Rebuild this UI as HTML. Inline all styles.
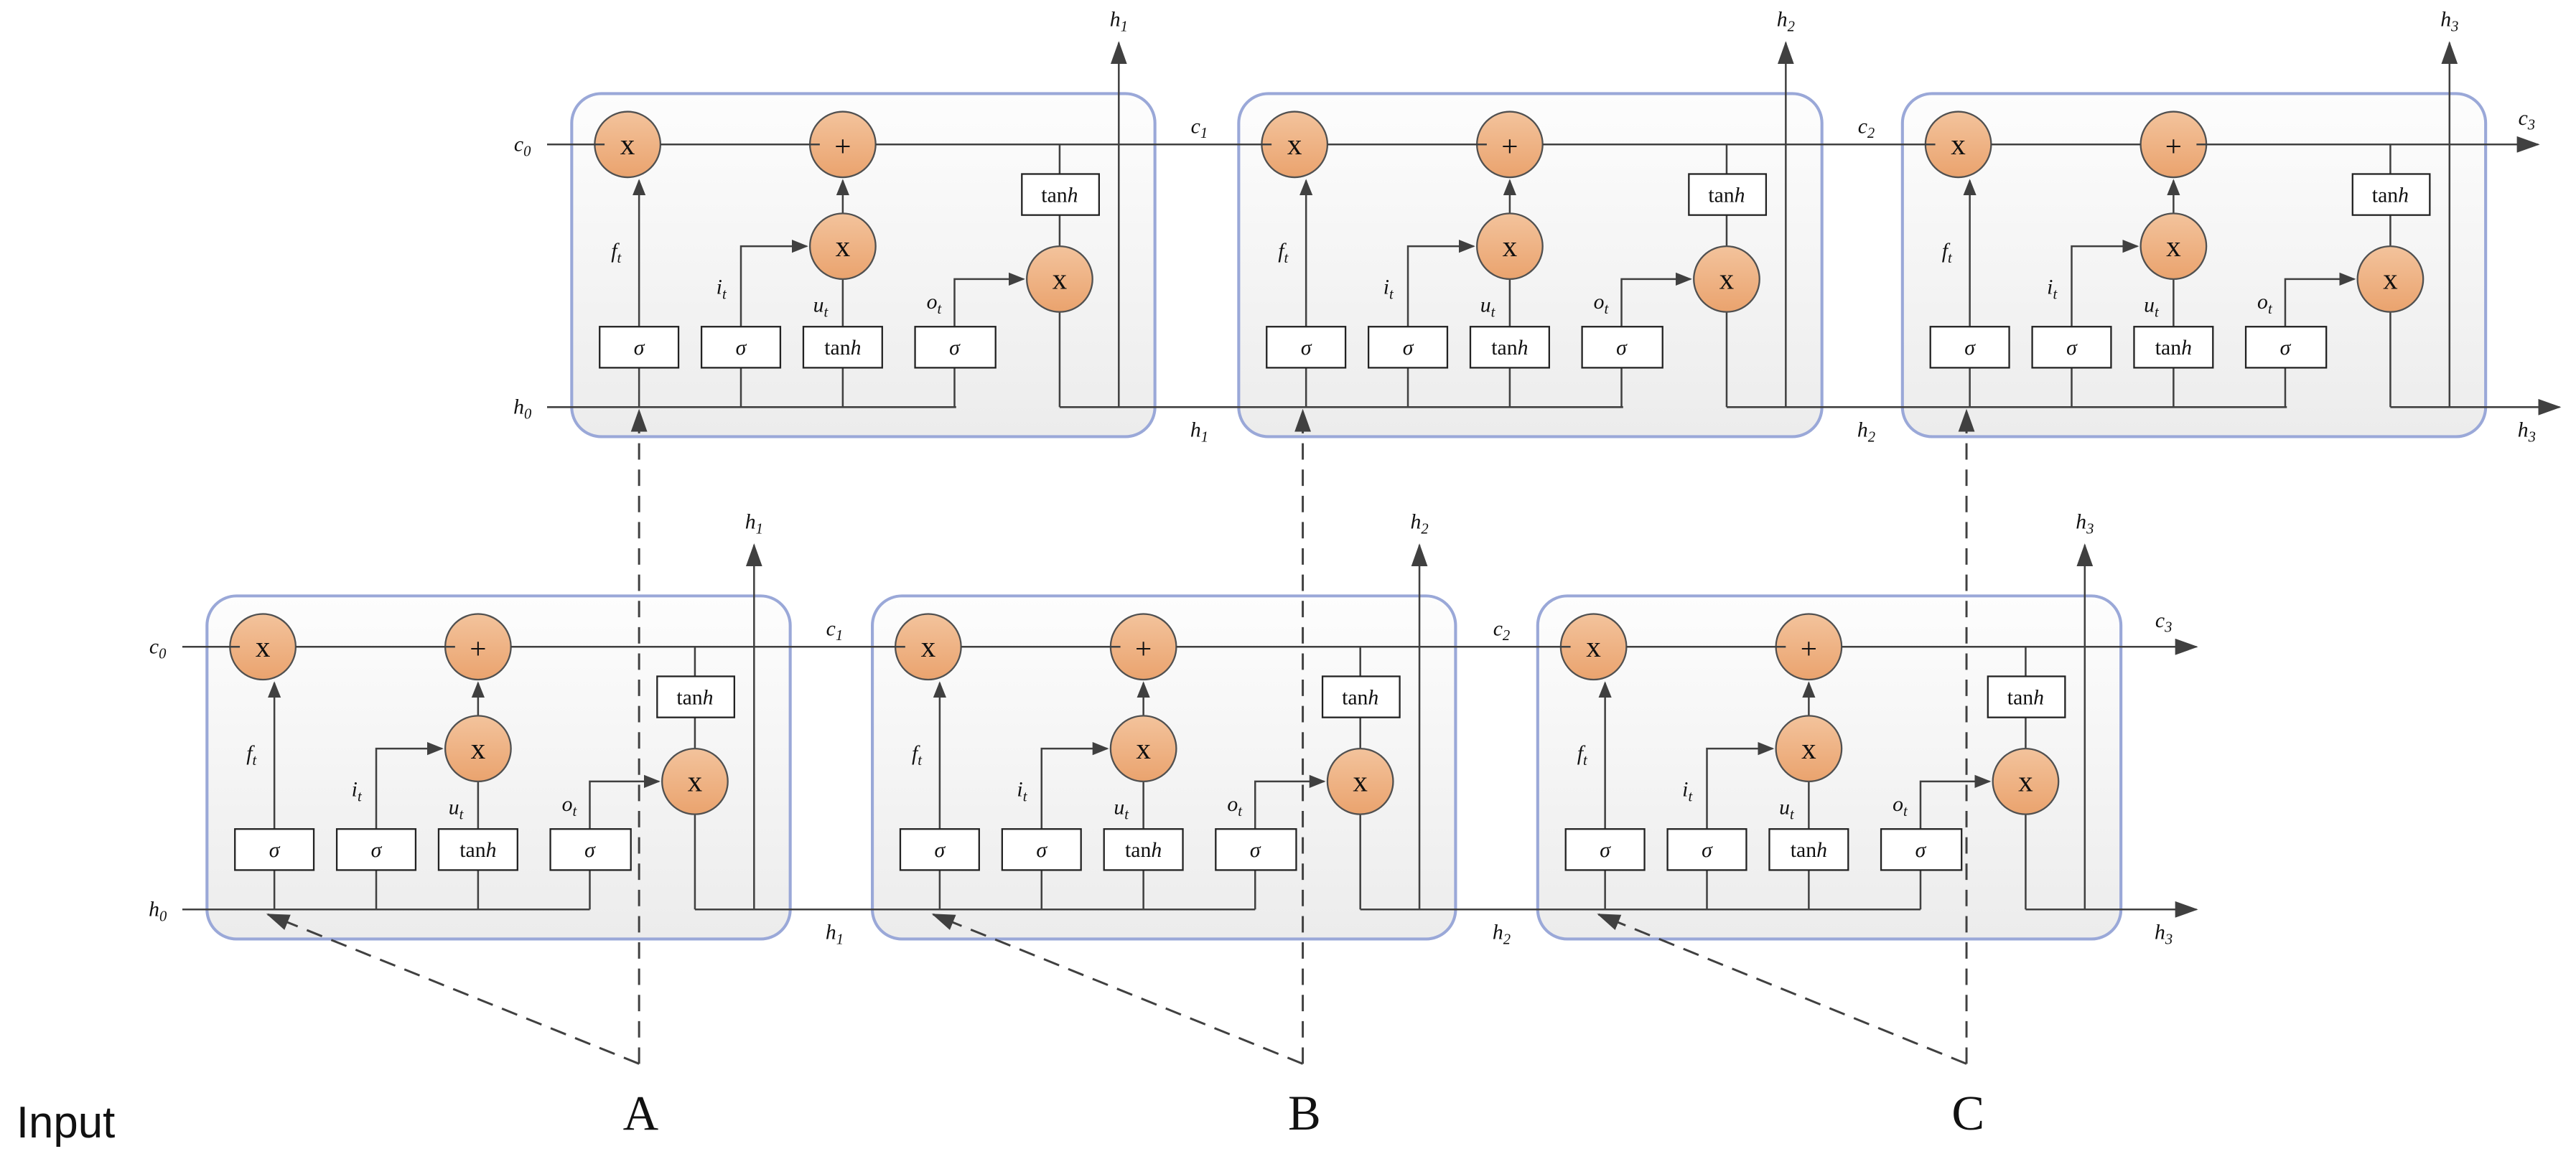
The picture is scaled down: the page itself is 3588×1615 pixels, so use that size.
<!DOCTYPE html>
<html><head><meta charset="utf-8"><style>
html,body{margin:0;padding:0;background:#fff;}
svg{display:block;}
.t{font-family:"Liberation Serif",serif;font-style:italic;fill:#111;}
.r{font-family:"Liberation Serif",serif;fill:#111;}
</style></head><body>
<svg width="3588" height="1615" viewBox="0 0 1568 706" preserveAspectRatio="none" xmlns="http://www.w3.org/2000/svg">
<defs>
<linearGradient id="bg" x1="0" y1="0" x2="0" y2="1"><stop offset="0" stop-color="#fdfdfd"/><stop offset="1" stop-color="#ececec"/></linearGradient>
<linearGradient id="og" x1="0" y1="0" x2="0" y2="1"><stop offset="0" stop-color="#f3c39c"/><stop offset="1" stop-color="#eaa36e"/></linearGradient>
<marker id="a" markerWidth="10" markerHeight="8" refX="9" refY="4" orient="auto" markerUnits="userSpaceOnUse"><path d="M0,0 L10,4 L0,8 Z" fill="#404040"/></marker>
<marker id="b" markerWidth="14" markerHeight="10" refX="13" refY="5" orient="auto" markerUnits="userSpaceOnUse"><path d="M0,0 L14,5 L0,10 Z" fill="#404040"/></marker>
<marker id="d" markerWidth="14" markerHeight="10" refX="2" refY="5" orient="auto" markerUnits="userSpaceOnUse"><path d="M0,5 L13,0 M0,5 L13,10" stroke="#404040" stroke-width="1.6" fill="none"/></marker>
<g id="cell">
<rect x="0" y="0" width="355" height="209" rx="18" fill="url(#bg)" stroke="#9aa8d8" stroke-width="1.8"/>
<g stroke="#404040" stroke-width="1.1" fill="none">
<line x1="41" y1="142" x2="41" y2="53" marker-end="url(#a)"/>
<polyline points="103,142 103,93 143,93" marker-end="url(#a)"/>
<line x1="165" y1="142" x2="165" y2="113"/>
<line x1="165" y1="73" x2="165" y2="53" marker-end="url(#a)"/>
<polyline points="233,142 233,113 275,113" marker-end="url(#a)"/>
<line x1="297" y1="31" x2="297" y2="49"/>
<line x1="297" y1="74" x2="297" y2="93"/>
<line x1="297" y1="133" x2="297" y2="191"/>
<line x1="41" y1="167" x2="41" y2="191"/>
<line x1="103" y1="167" x2="103" y2="191"/>
<line x1="165" y1="167" x2="165" y2="191"/>
<line x1="233" y1="167" x2="233" y2="191"/>
<line x1="333" y1="191" x2="333" y2="-31" marker-end="url(#b)"/>
</g>
<g stroke="#505050" stroke-width="1" fill="url(#og)">
<circle cx="34" cy="31" r="20"/><circle cx="165" cy="31" r="20"/><circle cx="165" cy="93" r="20"/><circle cx="297" cy="113" r="20"/>
</g>
<g class="r" font-size="18" text-anchor="middle">
<text x="34" y="37">x</text><text x="165" y="38">+</text><text x="165" y="99">x</text><text x="297" y="119">x</text>
</g>
<g fill="#fff" stroke="#222" stroke-width="1">
<rect x="17" y="142" width="48" height="25"/><rect x="79" y="142" width="48" height="25"/><rect x="141" y="142" width="48" height="25"/><rect x="209" y="142" width="49" height="25"/><rect x="274" y="49" width="47" height="25"/>
</g>
<g font-size="13" text-anchor="middle">
<text class="t" x="41" y="159">σ</text><text class="t" x="103" y="159">σ</text><text class="r" x="165" y="159">tan<tspan class="t">h</tspan></text><text class="t" x="233" y="159">σ</text><text class="r" x="297" y="66">tan<tspan class="t">h</tspan></text>
</g>
<g class="t" font-size="13">
<text x="24" y="100">f<tspan font-size="9" dy="3">t</tspan></text>
<text x="88" y="122">i<tspan font-size="9" dy="3">t</tspan></text>
<text x="147" y="133">u<tspan font-size="9" dy="3">t</tspan></text>
<text x="216" y="131">o<tspan font-size="9" dy="3">t</tspan></text>
</g>
</g>
</defs>

<!-- TOP ROW -->
<g stroke="#404040" stroke-width="1.1" fill="none">
<line x1="333" y1="88" x2="1545" y2="88" marker-end="url(#b)"/>
</g>
<use href="#cell" x="348" y="57"/><use href="#cell" x="754" y="57"/><use href="#cell" x="1158" y="57"/>
<g stroke="#404040" stroke-width="1.1" fill="none">
<line x1="333" y1="248" x2="582" y2="248"/>
<line x1="645" y1="248" x2="988" y2="248"/>
<line x1="1051" y1="248" x2="1392" y2="248"/>
<line x1="1455" y1="248" x2="1558" y2="248" marker-end="url(#b)"/>
<line x1="333" y1="88" x2="368" y2="88"/><line x1="402" y1="88" x2="499" y2="88"/><line x1="533" y1="88" x2="774" y2="88"/><line x1="808" y1="88" x2="905" y2="88"/><line x1="939" y1="88" x2="1178" y2="88"/><line x1="1212" y1="88" x2="1303" y2="88"/><line x1="1337" y1="88" x2="1530" y2="88"/>
</g>
<g class="t" font-size="13" text-anchor="middle">
<text x="318" y="92">c<tspan font-size="9" dy="3">0</tspan></text>
<text x="318" y="252">h<tspan font-size="9" dy="3">0</tspan></text>
<text x="681" y="16">h<tspan font-size="9" dy="3">1</tspan></text>
<text x="1087" y="16">h<tspan font-size="9" dy="3">2</tspan></text>
<text x="1491" y="16">h<tspan font-size="9" dy="3">3</tspan></text>
<text x="730" y="81">c<tspan font-size="9" dy="3">1</tspan></text>
<text x="1136" y="81">c<tspan font-size="9" dy="3">2</tspan></text>
<text x="1538" y="76">c<tspan font-size="9" dy="3">3</tspan></text>
<text x="730" y="266">h<tspan font-size="9" dy="3">1</tspan></text>
<text x="1136" y="266">h<tspan font-size="9" dy="3">2</tspan></text>
<text x="1538" y="266">h<tspan font-size="9" dy="3">3</tspan></text>
</g>

<!-- BOTTOM ROW -->
<use href="#cell" x="126" y="363"/><use href="#cell" x="531" y="363"/><use href="#cell" x="936" y="363"/>
<g stroke="#404040" stroke-width="1.1" fill="none">
<line x1="111" y1="394" x2="146" y2="394"/><line x1="180" y1="394" x2="277" y2="394"/><line x1="311" y1="394" x2="551" y2="394"/><line x1="585" y1="394" x2="682" y2="394"/><line x1="716" y1="394" x2="956" y2="394"/><line x1="990" y1="394" x2="1087" y2="394"/><line x1="1121" y1="394" x2="1337" y2="394" marker-end="url(#b)"/>
<line x1="111" y1="554" x2="359" y2="554"/>
<line x1="423" y1="554" x2="764" y2="554"/>
<line x1="828" y1="554" x2="1169" y2="554"/>
<line x1="1233" y1="554" x2="1337" y2="554" marker-end="url(#b)"/>
</g>
<g class="t" font-size="13" text-anchor="middle">
<text x="96" y="398">c<tspan font-size="9" dy="3">0</tspan></text>
<text x="96" y="558">h<tspan font-size="9" dy="3">0</tspan></text>
<text x="459" y="322">h<tspan font-size="9" dy="3">1</tspan></text>
<text x="864" y="322">h<tspan font-size="9" dy="3">2</tspan></text>
<text x="1269" y="322">h<tspan font-size="9" dy="3">3</tspan></text>
<text x="508" y="387">c<tspan font-size="9" dy="3">1</tspan></text>
<text x="914" y="387">c<tspan font-size="9" dy="3">2</tspan></text>
<text x="1317" y="382">c<tspan font-size="9" dy="3">3</tspan></text>
<text x="508" y="572">h<tspan font-size="9" dy="3">1</tspan></text>
<text x="914" y="572">h<tspan font-size="9" dy="3">2</tspan></text>
<text x="1317" y="572">h<tspan font-size="9" dy="3">3</tspan></text>
</g>

<!-- DASHED INPUTS -->
<g stroke="#404040" stroke-width="1.3" fill="none" stroke-dasharray="10,6">
<line x1="389" y1="648" x2="389" y2="250" marker-end="url(#b)"/>
<line x1="793" y1="648" x2="793" y2="250" marker-end="url(#b)"/>
<line x1="1197" y1="648" x2="1197" y2="250" marker-end="url(#b)"/>
<line x1="389" y1="648" x2="163" y2="557" marker-end="url(#b)"/>
<line x1="793" y1="648" x2="568" y2="557" marker-end="url(#b)"/>
<line x1="1197" y1="648" x2="973" y2="557" marker-end="url(#b)"/>
</g>
<g class="r" font-size="30" text-anchor="middle">
<text x="390" y="688">A</text><text x="794" y="688">B</text><text x="1198" y="688">C</text>
</g>
<text x="10" y="693" font-family="Liberation Sans, sans-serif" font-size="27" fill="#111">Input</text>
</svg>
</body></html>
